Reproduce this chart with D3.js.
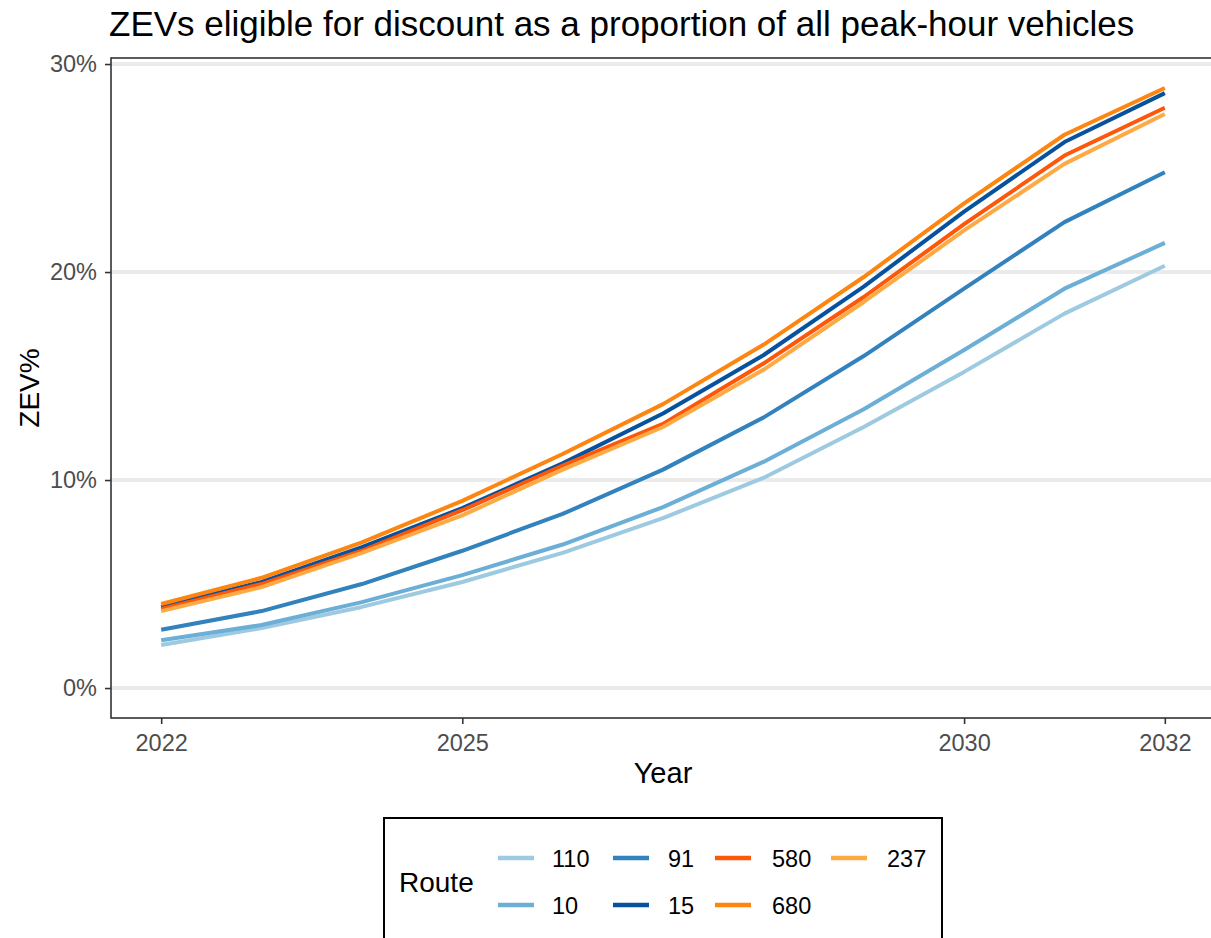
<!DOCTYPE html>
<html><head><meta charset="utf-8">
<script src="https://cdn.jsdelivr.net/npm/d3@7/dist/d3.min.js"></script>
<style>body{margin:0;background:#fff;} svg{display:block;font-family:"Liberation Sans",Arial,sans-serif;}</style>
</head><body>
<svg id="c" width="1211" height="938"></svg>
<script>
const years = [2022,2023,2024,2025,2026,2027,2028,2029,2030,2031,2032];
const routes = ["110","10","91","15","580","680","237"];
const colors = ["#9ecae1","#6baed6","#3182bd","#08519c","#fd570a","#fd8510","#fdaa45"];
const v110 = [2.07,2.88,3.9,5.1,6.5,8.17,10.1,12.55,15.2,18.0,20.3];
const v10  = [2.3,3.03,4.13,5.43,6.9,8.7,10.87,13.4,16.25,19.2,21.4];
const v91  = [2.8,3.7,5.0,6.6,8.37,10.5,13.0,15.96,19.2,22.4,24.8];
const v15  = [3.9,5.1,6.78,8.65,10.8,13.2,16.0,19.3,22.9,26.25,28.6];
const v580 = [3.8,5.0,6.6,8.55,10.7,12.7,15.6,18.8,22.3,25.6,27.9];
const v680 = [4.04,5.3,7.0,9.0,11.25,13.65,16.5,19.76,23.3,26.6,28.85];
const v237 = [3.7,4.85,6.5,8.3,10.5,12.55,15.3,18.56,22.0,25.2,27.6];
const seriesVals = {"110":v110,"10":v10,"91":v91,"15":v15,"580":v580,"680":v680,"237":v237};
const xTicks = [2022,2025,2030,2032];
const yTicks = [0,10,20,30];
const drawOrder = ["110","10","91","15","580","680","237"];

const svg = d3.select("#c");
const x = d3.scaleLinear().domain([2021.5,2032.5]).range([111,1215]);
const y = d3.scaleLinear().domain([-1.44,30.29]).range([718,58]);
const color = d3.scaleOrdinal().domain(routes).range(colors);

// title
svg.append("text").attr("x",109).attr("y",36).attr("font-size",35).attr("fill","#000")
  .text("ZEVs eligible for discount as a proportion of all peak-hour vehicles");

// gridlines
svg.append("g").selectAll("line").data(yTicks).join("line")
  .attr("x1",111).attr("x2",1215).attr("y1",d=>y(d)).attr("y2",d=>y(d))
  .attr("stroke","#ebebeb").attr("stroke-width",4);

// lines
const line = d3.line().x((d,i)=>x(years[i])).y(d=>y(d));
svg.append("g").selectAll("path").data(drawOrder).join("path")
  .attr("d",r=>line(seriesVals[r])).attr("fill","none")
  .attr("stroke",r=>color(r)).attr("stroke-width",4).attr("stroke-linejoin","round");

// panel border
svg.append("rect").attr("x",111).attr("y",58).attr("width",1104).attr("height",660)
  .attr("fill","none").attr("stroke","#333").attr("stroke-width",1.6);

// axes
const xAxis = svg.append("g").attr("transform","translate(0,718)")
  .call(d3.axisBottom(x).tickValues(xTicks).tickFormat(d3.format("d")).tickSize(6).tickPadding(10));
const yAxis = svg.append("g").attr("transform","translate(111,0)")
  .call(d3.axisLeft(y).tickValues(yTicks).tickFormat(d=>d+"%").tickSize(6).tickPadding(8));
[xAxis,yAxis].forEach(a=>{
  a.select(".domain").remove();
  a.selectAll(".tick line").attr("stroke","#333").attr("stroke-width",1.6);
  a.selectAll(".tick text").attr("fill","#4d4d4d").attr("font-size",23.5).attr("font-family","Liberation Sans, Arial, sans-serif");
});

// axis titles
svg.append("text").attr("x",663).attr("y",783).attr("text-anchor","middle").attr("font-size",29).text("Year");
svg.append("text").attr("transform","translate(39,388) rotate(-90)").attr("text-anchor","middle").attr("font-size",28).text("ZEV%");

// legend
const lg = svg.append("g");
lg.append("rect").attr("x",384).attr("y",818).attr("width",558).attr("height",140)
  .attr("fill","#fff").attr("stroke","#000").attr("stroke-width",2);
lg.append("text").attr("x",399).attr("y",892).attr("font-size",28).text("Route");
const legendItems = ["110","10","91","15","580","680","237"];
const keyX = [498,613,715,831];
const labX = [552,668,772,887];
const rowY = [858,905];
legendItems.forEach((r,i)=>{
  const c = Math.floor(i/2), rr = i%2;
  lg.append("line").attr("x1",keyX[c]).attr("x2",keyX[c]+36).attr("y1",rowY[rr]).attr("y2",rowY[rr])
    .attr("stroke",color(r)).attr("stroke-width",4.5);
  lg.append("text").attr("x",labX[c]).attr("y",rowY[rr]+8.5).attr("font-size",23.5).text(r);
});
</script>
</body></html>
